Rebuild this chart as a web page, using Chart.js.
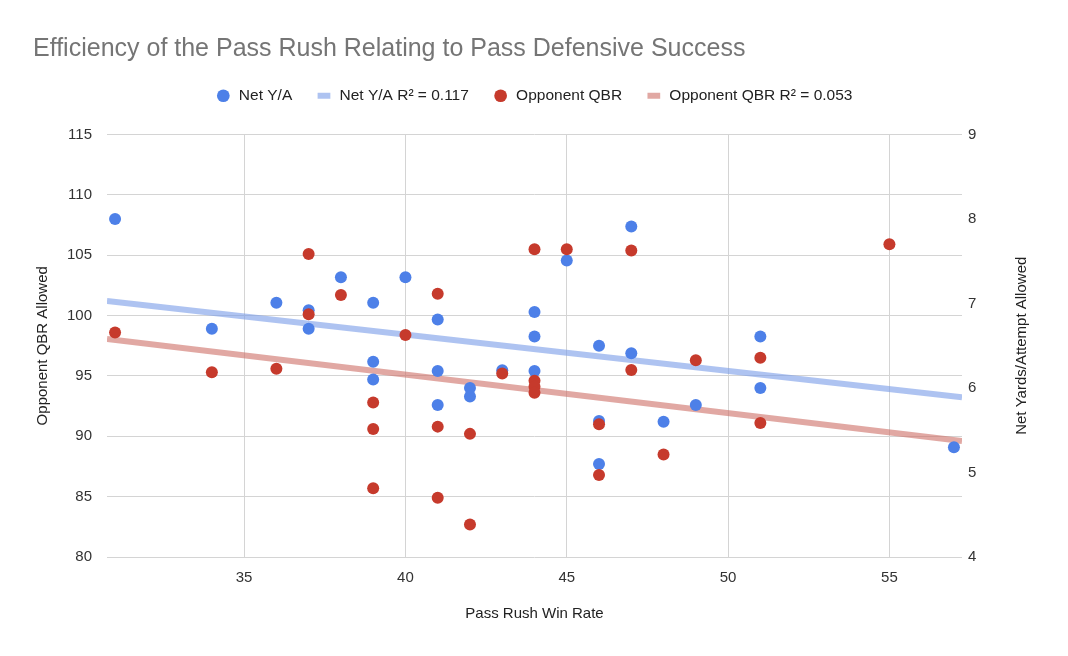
<!DOCTYPE html>
<html>
<head>
<meta charset="utf-8">
<script src="https://cdn.jsdelivr.net/npm/chart.js@4.4.1/dist/chart.umd.min.js"></script>
<style>
  body { margin: 0; background: #fff; }
  #wrap { width: 1068px; height: 656px; }
</style>
</head>
<body>
<div id="wrap"><canvas id="rush" width="1068" height="656"></canvas></div>
<script>
// values
let netX  = [31, 34, 36, 37, 37, 38, 39, 39, 39, 40, 41, 41, 41, 42, 42, 43, 44, 44, 44, 45, 46, 46, 46, 47, 47, 48, 49, 51, 51, 57];
let netYA = [8.0, 6.70, 7.01, 6.92, 6.70, 7.31, 7.01, 6.31, 6.10, 7.31, 6.81, 6.20, 5.80, 6.0, 5.90, 6.21, 6.90, 6.61, 6.20, 7.51, 6.50, 5.61, 5.10, 7.91, 6.41, 5.60, 5.80, 6.61, 6.0, 5.30];

let qbrX = [31, 34, 36, 37, 37, 38, 39, 39, 39, 40, 41, 41, 41, 42, 42, 43, 44, 44, 44, 44, 45, 46, 46, 47, 47, 48, 49, 51, 51, 55];
let qbr  = [98.6, 95.3, 95.6, 105.1, 100.1, 101.7, 92.8, 90.6, 85.7, 98.4, 101.8, 90.8, 84.9, 90.2, 82.7, 95.2, 105.5, 94.6, 94.1, 93.6, 105.5, 91.0, 86.8, 105.4, 95.5, 88.5, 96.3, 96.5, 91.1, 105.9];

// trendline ends
let trendX   = [30.75, 57.25];
let netTrend = [7.03, 5.89];
let qbrTrend = [98.07, 89.6];

let labels = ["Net Y/A", "Net Y/A R\u00b2 = 0.117", "Opponent QBR", "Opponent QBR R\u00b2 = 0.053"];

function pts(xs, ys) {
    return xs.map((x, i) => ({ x: x, y: ys[i] }));
}

var FONT = "'Liberation Sans', Arial, sans-serif";
var blue = '#4d80e8';
var red = '#c63a2c';

// right axis title reads bottom-to-top like the left one
var rightTitle = {
    id: 'rightTitle',
    afterDraw(chart) {
        let ctx = chart.ctx;
        let a = chart.chartArea;
        ctx.save();
        ctx.translate(1022, (a.top + a.bottom) / 2);
        ctx.rotate(-Math.PI / 2);
        ctx.font = '15px ' + FONT;
        ctx.fillStyle = '#222';
        ctx.textAlign = 'center';
        ctx.textBaseline = 'middle';
        ctx.fillText('Net Yards/Attempt Allowed', 0, 0);
        ctx.restore();
    }
};

// extra gap under the legend
var legendGap = {
    id: 'legendGap',
    beforeUpdate(chart) {
        let lg = chart.legend;
        if (lg && !lg._gapped) {
            let fit = lg.fit;
            lg.fit = function () {
                fit.call(this);
                this.height += 21;
            };
            lg._gapped = true;
        }
    }
};

var ctx = document.getElementById('rush').getContext('2d');

var myChart = new Chart(ctx, {
    type: 'scatter',
    data: {
        datasets: [
            {
                label: labels[0],
                data: pts(netX, netYA),
                yAxisID: 'y1',
                backgroundColor: blue,
                borderWidth: 0,
                pointRadius: 6,
                order: 1
            },
            {
                label: labels[1],
                data: pts(trendX, netTrend),
                yAxisID: 'y1',
                showLine: true,
                borderColor: 'rgba(120,155,232,0.6)',
                backgroundColor: 'rgba(120,155,232,0.6)',
                borderWidth: 6,
                pointRadius: 0,
                pointStyle: 'line',
                order: 3
            },
            {
                label: labels[2],
                data: pts(qbrX, qbr),
                yAxisID: 'y',
                backgroundColor: red,
                borderWidth: 0,
                pointRadius: 6,
                order: 0
            },
            {
                label: labels[3],
                data: pts(trendX, qbrTrend),
                yAxisID: 'y',
                showLine: true,
                borderColor: 'rgba(205,110,102,0.6)',
                backgroundColor: 'rgba(205,110,102,0.6)',
                borderWidth: 6,
                pointRadius: 0,
                pointStyle: 'line',
                order: 2
            }
        ]
    },
    options: {
        responsive: false,
        animation: false,
        layout: { padding: { left: 33, right: 33, top: 0, bottom: 33 } },
        plugins: {
            title: {
                display: true,
                text: 'Efficiency of the Pass Rush Relating to Pass Defensive Success',
                align: 'start',
                color: '#757575',
                font: { family: FONT, size: 25, weight: 'normal' },
                padding: { top: 34, bottom: 0 }
            },
            legend: {
                position: 'top',
                labels: {
                    usePointStyle: true,
                    boxHeight: 9,
                    padding: 24,
                    color: '#222',
                    font: { family: FONT, size: 15.5 },
                    sort: (a, b) => a.datasetIndex - b.datasetIndex
                }
            },
            tooltip: { enabled: false }
        },
        scales: {
            x: {
                type: 'linear',
                min: 30.75,
                max: 57.25,
                afterFit: (s) => { s.height = 66; },
                border: { display: false },
                grid: { color: '#d4d4d4', drawTicks: false },
                ticks: {
                    stepSize: 5,
                    includeBounds: false,
                    padding: 12,
                    color: '#333',
                    font: { family: FONT, size: 15 }
                },
                title: {
                    display: true,
                    text: 'Pass Rush Win Rate',
                    color: '#222',
                    font: { family: FONT, size: 15 },
                    padding: 0
                }
            },
            y: {
                position: 'left',
                min: 80,
                max: 115,
                afterFit: (s) => { s.width = 74; },
                border: { display: false },
                grid: { color: '#d4d4d4', drawTicks: false },
                ticks: {
                    stepSize: 5,
                    padding: 15,
                    color: '#333',
                    font: { family: FONT, size: 15 }
                },
                title: {
                    display: true,
                    text: 'Opponent QBR Allowed',
                    color: '#222',
                    font: { family: FONT, size: 15 },
                    padding: { top: 1, bottom: 0 }
                }
            },
            y1: {
                position: 'right',
                min: 4,
                max: 9,
                afterFit: (s) => { s.width = 73; },
                border: { display: false },
                grid: { display: false, drawTicks: false },
                ticks: {
                    stepSize: 1,
                    padding: 6,
                    color: '#333',
                    font: { family: FONT, size: 15 }
                }
            }
        }
    },
    plugins: [rightTitle, legendGap]
});
</script>
</body>
</html>
